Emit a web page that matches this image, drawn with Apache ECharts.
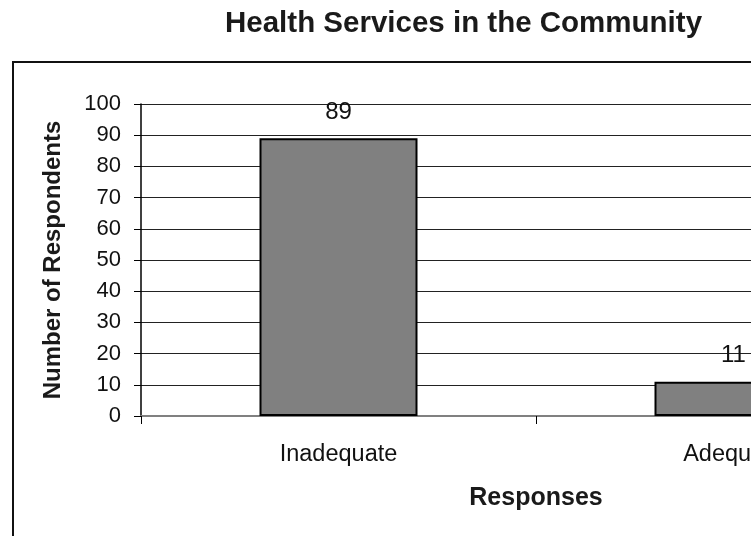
<!DOCTYPE html>
<html>
<head>
<meta charset="utf-8">
<script src="https://cdn.jsdelivr.net/npm/echarts@6/dist/echarts.min.js"></script>
<style>
html,body{margin:0;padding:0;background:#fff;overflow:hidden;width:751px;height:536px;}
#main{width:940px;height:536px;}
</style>
</head>
<body>
<div id="main"></div>
<script>
const titleText = 'Health Services in the Community';
const categories = ['Inadequate', 'Adequate'];
const respondents = [89, 11];
const yTicks = [0, 10, 20, 30, 40, 50, 60, 70, 80, 90, 100];
const xName = 'Responses';
const yName = 'Number of Respondents';

const chart = echarts.init(document.getElementById('main'), null, {renderer: 'canvas'});
const FONT = '"Liberation Sans", Arial, sans-serif';
chart.setOption({
  animation: false,
  backgroundColor: '#fff',
  title: {
    text: titleText,
    left: 225,
    top: 9,
    padding: 0,
    textStyle: {fontFamily: FONT, fontSize: 29.5, fontWeight: 'bold', color: '#1a1a1a'}
  },
  graphic: [{
    type: 'rect',
    shape: {x: 13, y: 62, width: 1000, height: 700},
    style: {fill: 'none', stroke: '#111', lineWidth: 2},
    silent: true,
    z: -1
  }],
  grid: {left: 141, top: 104, bottom: 120, right: 9, containLabel: false},
  xAxis: {
    type: 'category',
    data: categories,
    boundaryGap: true,
    name: xName,
    nameLocation: 'middle',
    nameGap: 70,
    nameTextStyle: {fontFamily: FONT, fontSize: 25, fontWeight: 'bold', color: '#1a1a1a'},
    axisLine: {show: true, lineStyle: {color: '#808080', width: 2}},
    axisTick: {show: true, length: 8, lineStyle: {color: '#000', width: 1}},
    axisLabel: {margin: 27, fontFamily: FONT, fontSize: 23.5, color: '#111'},
    splitLine: {show: false}
  },
  yAxis: {
    type: 'value',
    min: yTicks[0],
    max: yTicks[yTicks.length - 1],
    interval: yTicks[1] - yTicks[0],
    name: yName,
    nameLocation: 'middle',
    nameGap: 76,
    nameTextStyle: {fontFamily: FONT, fontSize: 24, fontWeight: 'bold', color: '#1a1a1a'},
    axisLine: {show: true, lineStyle: {color: '#000', width: 1.5}},
    axisTick: {show: true, length: 7, lineStyle: {color: '#000', width: 1}},
    axisLabel: {margin: 20, fontFamily: FONT, fontSize: 22, color: '#111'},
    splitLine: {show: true, lineStyle: {color: '#222', width: 1}}
  },
  series: [{
    type: 'bar',
    data: respondents,
    barWidth: '40%',
    itemStyle: {color: '#808080', borderColor: '#000', borderWidth: 2},
    label: {
      show: true,
      position: 'top',
      distance: 14,
      fontFamily: FONT,
      fontSize: 24,
      color: '#111'
    }
  }]
});
</script>
</body>
</html>
